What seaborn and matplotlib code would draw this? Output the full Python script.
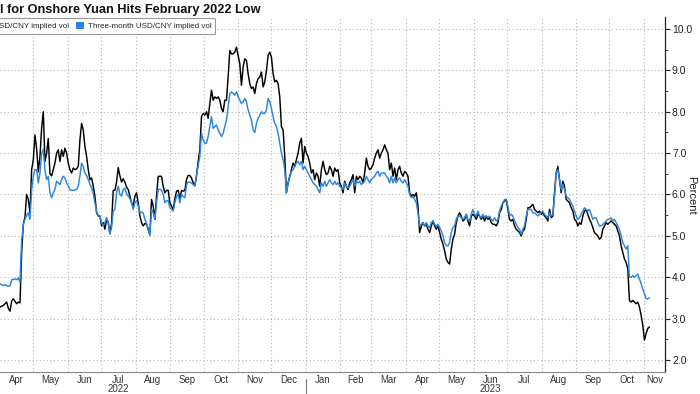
import numpy as np
import pandas as pd
import matplotlib
matplotlib.use("Agg")
import matplotlib.pyplot as plt
import matplotlib.dates as mdates
from matplotlib.patches import Patch
from matplotlib.lines import Line2D
import seaborn as sns

# ---------------- data ----------------
title = "l for Onshore Yuan Hits February 2022 Low"
legend_labels = ["SD/CNY implied vol", "Three-month USD/CNY implied vol"]
y_label = "Percent"
start_date = "2022-04-01"
end_date = "2023-11-06"

one_month = [
    3.28, 3.30, 3.32, 3.36, 3.40, 3.25, 3.18, 3.42, 3.48, 3.42,
    3.36, 3.40, 3.38, 4.60, 5.28, 5.45, 6.00, 5.88, 5.56, 6.60,
    6.84, 7.44, 7.10, 6.55, 6.92, 7.60, 8.00, 6.80, 7.00, 7.35,
    6.50, 6.45, 6.60, 6.76, 7.00, 7.08, 6.80, 7.08, 6.92, 7.12,
    7.00, 6.76, 6.60, 6.52, 6.64, 6.60, 6.62, 6.68, 7.32, 7.72,
    7.56, 7.16, 6.92, 6.60, 6.36, 6.40, 6.20, 5.96, 5.56, 5.48,
    5.48, 5.24, 5.32, 5.16, 5.40, 5.32, 5.05, 5.30, 6.10, 6.10,
    6.30, 6.65, 6.45, 6.30, 6.38, 6.30, 6.18, 6.12, 5.96, 5.80,
    5.72, 5.96, 6.04, 5.80, 5.48, 5.32, 5.24, 5.30, 5.28, 5.16,
    5.04, 5.88, 5.72, 5.40, 5.96, 6.44, 6.44, 6.44, 6.20,
    6.04, 6.10, 6.10, 5.80, 5.72, 5.64, 5.90, 6.08, 6.10, 5.88,
    6.10, 6.08, 6.10, 6.36, 6.46, 6.46, 6.40, 6.28, 6.22, 6.45,
    6.80, 7.08, 7.88, 7.96, 7.92, 8.00, 7.84, 8.20, 8.52, 8.28,
    8.36, 8.32, 8.36, 8.28, 8.08, 8.00, 8.28, 8.28, 8.84, 9.48,
    9.40, 9.40, 9.44, 9.56, 9.36, 9.16, 8.64, 9.08, 9.28, 9.24,
    8.92, 8.68, 8.56, 8.60, 8.44, 8.68, 8.80, 8.84, 8.96, 8.60,
    8.72, 9.00, 9.36, 9.44, 9.32, 8.92, 8.72, 8.76, 8.68, 8.36,
    7.64, 7.56, 6.92, 6.04, 6.28, 6.44, 6.60, 6.76, 6.68, 6.84,
    7.00, 7.24, 7.36, 6.76, 7.16, 7.00, 6.92, 6.76, 6.52, 6.60,
    6.36, 6.52, 6.44, 6.20, 6.60, 6.80, 6.60, 6.48, 6.52,
    6.68, 6.60, 6.44, 6.64, 6.56, 6.60, 6.28, 6.20, 6.04, 6.32,
    6.20, 6.12, 6.28, 6.36, 6.48, 6.04, 6.44, 6.36, 6.44, 6.40,
    6.28, 6.52, 6.88, 6.68, 6.60, 6.64, 6.72, 6.88, 7.00, 7.08,
    6.88, 7.00, 7.08, 7.20, 7.08, 7.00, 6.60, 6.76, 6.44, 6.64,
    6.36, 6.60, 6.68, 6.52, 6.44, 6.56, 6.52, 6.44, 6.04, 5.96,
    6.00, 5.96, 6.04, 5.72, 5.08, 5.24, 5.32, 5.24, 5.28, 5.16,
    5.08, 5.24, 5.36, 5.24, 5.16, 5.24, 5.08, 4.92, 4.80, 4.64,
    4.44, 4.36, 4.32, 4.68, 4.92, 5.04, 5.32, 5.48, 5.56, 5.48,
    5.36, 5.40, 5.52, 5.36, 5.24, 5.48, 5.52, 5.48, 5.40, 5.52,
    5.48, 5.40, 5.48, 5.36, 5.48, 5.40, 5.44, 5.32, 5.28,
    5.28, 5.24, 5.32, 5.56, 5.64, 5.80, 5.84, 5.88, 5.64, 5.40,
    5.36, 5.40, 5.24, 5.16, 5.12, 5.08, 5.00, 5.12, 5.16, 5.40,
    5.68, 5.68, 5.72, 5.76, 5.64, 5.60, 5.56, 5.60, 5.52, 5.56,
    5.48, 5.44, 5.36, 5.64, 5.44, 5.48, 6.04, 6.52, 6.68, 6.36,
    6.04, 6.32, 6.20, 5.88, 5.84, 5.80, 5.68, 5.60, 5.40, 5.36,
    5.24, 5.32, 5.28, 5.48, 5.60, 5.64, 5.52, 5.40, 5.32, 5.20,
    5.08, 5.04, 5.00, 4.92, 4.96, 5.16, 5.24, 5.32, 5.28, 5.32,
    5.36, 5.32, 5.28, 5.24, 5.12, 5.00, 4.76, 4.60, 4.44, 4.36,
    4.20, 3.44, 3.40, 3.44, 3.40, 3.36, 3.40, 3.28, 3.08, 2.84,
    2.48, 2.64, 2.76, 2.80,
]

three_month = [
    3.84, 3.82, 3.80, 3.82, 3.80, 3.78, 3.80, 3.94, 3.95, 3.96,
    3.94, 3.98, 3.88, 4.90, 5.26, 5.40, 5.50, 5.56, 5.40, 6.12,
    6.44, 6.60, 6.60, 6.28, 6.52, 6.98, 7.10, 6.58, 6.36, 6.44,
    6.04, 5.92, 6.04, 6.12, 6.32, 6.28, 6.24, 6.36, 6.44, 6.40,
    6.28, 6.20, 6.12, 6.10, 6.10, 6.11, 6.12, 6.20, 6.45, 6.76,
    6.68, 6.52, 6.46, 6.36, 6.25, 6.16, 6.02, 5.80, 5.58, 5.50,
    5.48, 5.32, 5.24, 5.32, 5.44, 5.32, 5.05, 5.20, 5.60, 5.64,
    6.04, 6.20, 6.00, 5.96, 6.12, 6.15, 6.02, 5.96, 5.90, 5.80,
    5.64, 5.80, 5.85, 5.72, 5.56, 5.58, 5.55, 5.40, 5.30, 5.16,
    5.00, 5.64, 5.56, 5.40, 5.80, 6.12, 6.13, 6.10, 6.00,
    5.80, 5.85, 5.85, 5.68, 5.64, 5.60, 5.80, 5.95, 6.00, 5.80,
    6.00, 5.95, 5.92, 6.24, 6.30, 6.30, 6.28, 6.24, 6.20, 6.45,
    6.70, 6.92, 7.48, 7.32, 7.24, 7.24, 7.40, 7.64, 7.88, 7.60,
    7.64, 7.68, 7.56, 7.48, 7.40, 7.48, 7.64, 7.80, 8.12, 8.44,
    8.48, 8.44, 8.40, 8.48, 8.36, 8.28, 8.20, 8.24, 8.32, 8.24,
    8.04, 7.92, 7.80, 7.56, 7.50, 7.72, 7.84, 7.92, 8.00, 7.96,
    7.96, 8.04, 8.32, 8.24, 8.08, 7.88, 7.72, 7.64, 7.48, 7.24,
    7.00, 6.84, 6.60, 6.04, 6.28, 6.44, 6.56, 6.60, 6.68, 6.76,
    6.80, 6.72, 6.80, 6.60, 6.68, 6.60, 6.52, 6.44, 6.36, 6.28,
    6.24, 6.20, 6.12, 6.04, 6.28, 6.20, 6.32, 6.20, 6.28,
    6.36, 6.28, 6.24, 6.32, 6.24, 6.28, 6.20, 6.16, 6.12, 6.28,
    6.20, 6.16, 6.20, 6.28, 6.36, 6.20, 6.32, 6.28, 6.32, 6.24,
    6.28, 6.32, 6.44, 6.36, 6.28, 6.36, 6.40, 6.44, 6.52, 6.56,
    6.44, 6.52, 6.52, 6.52, 6.44, 6.40, 6.28, 6.44, 6.28, 6.40,
    6.28, 6.36, 6.40, 6.32, 6.28, 6.36, 6.28, 6.20, 6.00, 5.92,
    5.96, 5.88, 5.80, 5.56, 5.24, 5.28, 5.32, 5.24, 5.32, 5.24,
    5.20, 5.32, 5.36, 5.28, 5.24, 5.28, 5.20, 5.12, 5.00, 4.84,
    4.76, 4.76, 4.84, 5.08, 5.20, 5.24, 5.40, 5.48, 5.48, 5.44,
    5.40, 5.44, 5.52, 5.40, 5.36, 5.52, 5.64, 5.52, 5.48, 5.60,
    5.48, 5.44, 5.52, 5.44, 5.48, 5.44, 5.48, 5.40, 5.36,
    5.44, 5.36, 5.40, 5.60, 5.72, 5.80, 5.88, 5.88, 5.72, 5.48,
    5.52, 5.48, 5.36, 5.28, 5.20, 5.16, 5.04, 5.16, 5.24, 5.48,
    5.64, 5.64, 5.64, 5.56, 5.56, 5.52, 5.48, 5.52, 5.56, 5.60,
    5.52, 5.48, 5.44, 5.56, 5.48, 5.52, 5.96, 6.52, 6.60, 6.36,
    6.12, 6.24, 6.12, 5.96, 5.92, 5.88, 5.80, 5.72, 5.60, 5.48,
    5.40, 5.44, 5.52, 5.60, 5.68, 5.64, 5.60, 5.64, 5.52, 5.40,
    5.44, 5.44, 5.32, 5.24, 5.24, 5.28, 5.32, 5.36, 5.40, 5.40,
    5.44, 5.36, 5.40, 5.32, 5.24, 5.16, 5.00, 4.84, 4.76, 4.68,
    4.76, 4.00, 4.00, 4.04, 4.00, 4.04, 4.08, 3.96, 3.84, 3.72,
    3.60, 3.48, 3.48, 3.50,
]

month_labels = ["Apr", "May", "Jun", "Jul\n2022", "Aug", "Sep", "Oct", "Nov",
                "Dec", "Jan", "Feb", "Mar", "Apr", "May", "Jun\n2023", "Jul",
                "Aug", "Sep", "Oct", "Nov"]
y_ticks = [2.0, 3.0, 4.0, 5.0, 6.0, 7.0, 8.0, 9.0, 10.0]

# ---------------- styling ----------------
BLACK = "#000000"
BLUE = "#2b86d9"
GRID = "#b5b5b5"
W, H = 700, 394

sns.set_theme(style="white")
plt.rcParams["font.family"] = ["Liberation Sans Narrow", "Liberation Sans", "DejaVu Sans"]

dates = pd.date_range(start_date, end_date, periods=len(one_month))
df = pd.DataFrame({"date": dates, "one": one_month, "three": three_month})
long = df.melt("date", var_name="series", value_name="vol")

fig = plt.figure(figsize=(W / 100, H / 100), dpi=100)
ax = fig.add_axes([0.0, 22 / H, 665 / W, (372 - 17) / H])

sns.lineplot(data=long, x="date", y="vol", hue="series",
             palette={"one": BLACK, "three": BLUE}, hue_order=["one", "three"],
             linewidth=1.05, ax=ax, legend=False)

x_left = pd.Timestamp("2022-04-01")
x_right = pd.Timestamp("2023-11-20")
ax.set_xlim(x_left, x_right)
ax.set_ylim(1.71, 10.29)
ax.set_xlabel("")
ax.set_ylabel("")

# y axis on the right
ax.yaxis.tick_right()
ax.set_yticks(y_ticks)
ax.set_yticklabels([f"{v:.1f}" for v in y_ticks])
ax.set_yticks([v + 0.5 for v in y_ticks[:-1]], minor=True)
ax.tick_params(axis="y", which="major", direction="out", length=3.5, width=0.8,
               color="#222222", pad=1.5, labelsize=7.5, labelcolor="#222222",
               left=False, right=True)
ax.tick_params(axis="y", which="minor", direction="out", length=2, width=0.6,
               color="#222222", left=False, right=True)

# x axis: month boundaries as major ticks, labels centred in each month
month_starts = pd.date_range("2022-05-01", "2023-11-01", freq="MS")
ax.set_xticks(month_starts)
ax.set_xticklabels([""] * len(month_starts))
all_starts = pd.date_range("2022-04-01", "2023-11-01", freq="MS")
centres = []
for s in all_starts:
    e = min(s + pd.offsets.MonthBegin(1), x_right)
    centres.append(s + (e - s) / 2)
ax.set_xticks(centres, minor=True)
ax.set_xticklabels(month_labels, minor=True)
ax.tick_params(axis="x", which="major", direction="inout", length=4, width=0.7,
               color="#777777")
ax.tick_params(axis="x", which="minor", length=0, pad=2.0, labelsize=6.9,
               labelcolor="#333333")
for t in ax.get_xticklabels(minor=True):
    t.set_linespacing(0.95)
    t.set_verticalalignment("top")

# grid
ax.grid(False)
for v in y_ticks:
    ax.axhline(v, color=GRID, lw=0.8, ls=(0, (1, 2.2)), zorder=0)
for d in month_starts:
    ax.axvline(d, color=GRID, lw=0.8, ls=(0, (1, 2.2)), zorder=0)

for side in ["left", "top"]:
    ax.spines[side].set_visible(False)
ax.spines["right"].set_color("#222222")
ax.spines["right"].set_linewidth(0.9)
ax.spines["bottom"].set_color("#888888")
ax.spines["bottom"].set_linewidth(0.8)

# year separator
fig.canvas.draw()
xsep = ax.transData.transform((mdates.date2num(pd.Timestamp("2023-01-01")), 0))[0] / W
fig.add_artist(Line2D([xsep, xsep], [0.0, 22 / H - 0.018], color="#777777", lw=0.8))

# y label
fig.text(691 / W, 1 - 195 / H, y_label, rotation=270, ha="center", va="center",
         fontsize=8, color="#222222")

# title
fig.text(0.0, 1 - 10 / H, title, ha="left", va="center", fontsize=9.2,
         fontweight="bold", color="#111111", family=["Liberation Sans", "DejaVu Sans"])

# legend (left part cropped by figure edge, as in the reference)
handles = [Patch(facecolor=BLACK, edgecolor="none"), Patch(facecolor=BLUE, edgecolor="none")]
leg = fig.legend(handles, legend_labels, loc="upper left", bbox_to_anchor=(0.0, 1 - 18 / H),
                 ncol=2, frameon=True, fancybox=True, fontsize=5.8, handlelength=0.95,
                 handleheight=0.95, handletextpad=0.45, columnspacing=0.9, borderpad=0.5,
                 borderaxespad=0.0)
leg.get_frame().set_edgecolor("#999999")
leg.get_frame().set_linewidth(0.8)
leg.get_frame().set_facecolor("white")
leg.get_frame().set_alpha(1.0)
fig.canvas.draw()
tx0 = leg.get_texts()[0].get_window_extent().x0
lx0 = leg.get_window_extent().x0
shift = (tx0 - lx0) + 1
leg.set_bbox_to_anchor((-shift / W, 1 - 18 / H), transform=fig.transFigure)

fig.savefig("out.png", dpi=100)
